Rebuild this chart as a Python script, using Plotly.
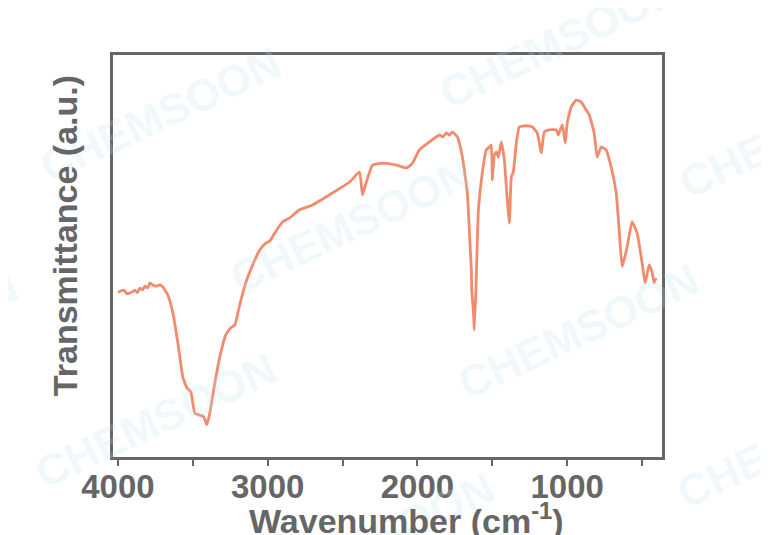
import plotly.graph_objects as go

# Wavenumber (cm-1) and transmittance (a.u.)
wavenumber = [4000, 3960, 3940, 3920, 3900, 3887, 3870, 3853, 3835, 3820, 3800, 3787, 3767, 3747,
              3720, 3700, 3667, 3633, 3600, 3567, 3540, 3513, 3487, 3453, 3427, 3407, 3387,
              3353, 3320, 3280, 3247, 3220, 3187, 3147, 3100, 3053, 3013, 2987, 2953, 2900,
              2853, 2787, 2700, 2567, 2453, 2387, 2367, 2347, 2300, 2233, 2140, 2073, 2033,
              1987, 1920, 1853, 1830, 1807, 1785, 1767, 1733, 1700, 1667, 1647, 1640, 1637, 1627,
              1620, 1607, 1593, 1567, 1540, 1520, 1507, 1500, 1487, 1473, 1460, 1440, 1420,
              1400, 1387, 1373, 1360, 1340, 1320, 1273, 1233, 1200, 1173, 1153, 1120, 1073,
              1060, 1033, 1013, 1000, 973, 940, 907, 873, 853, 820, 800, 773, 740, 707, 673,
              653, 633, 600, 567, 533, 500, 480, 453, 433, 420, 407]
transmittance = [41.0, 41.5, 40.6, 40.8, 41.2, 41.5, 40.9, 42.0, 41.6, 42.5, 42.1, 43.3, 42.8, 42.5,
                 42.8, 42.3, 40.3, 35.8, 28.4, 19.9, 17.2, 16.2, 10.9, 10.4, 10.0, 8.0, 10.9,
                 18.4, 24.9, 30.4, 32.1, 32.8, 37.8, 43.3, 47.8, 51.5, 53.2, 53.7, 55.7, 58.5,
                 59.5, 61.5, 62.7, 65.7, 68.4, 70.9, 65.2, 67.7, 72.6, 73.1, 72.6, 71.9, 73.1,
                 76.4, 78.4, 80.1, 79.6, 80.6, 80.1, 80.9, 79.6, 74.6, 65.7, 51.5, 46.5, 41.0, 36.6,
                 31.6, 44.8, 61.5, 70.7, 76.4, 77.1, 77.6, 68.9, 75.1, 75.9, 74.6, 78.4, 73.9,
                 63.9, 58.2, 69.7, 70.9, 78.1, 82.1, 82.4, 82.1, 80.6, 75.6, 80.9, 81.4, 81.4,
                 80.1, 82.6, 78.1, 83.1, 87.1, 88.8, 88.3, 86.3, 85.1, 80.6, 74.6, 77.1, 76.4,
                 72.2, 65.7, 56.5, 47.3, 52.2, 58.5, 55.7, 48.3, 43.3, 47.8, 46.0, 43.3, 44.5]

x_tick_values = [4000, 3000, 2000, 1000]
x_tick_labels = ["4000", "3000", "2000", "1000"]

x_title = "Wavenumber (cm<sup>-1</sup>)"
y_title = "Transmittance (a.u.)"

watermark_text = "CHEMSOON"
watermark_x = [0.086, 0.814, 0.432, 1.251, 0.077, 0.847, 1.246, -0.392, 0.474]
watermark_y = [0.851, 1.037, 0.577, 0.813, 0.092, 0.311, 0.040, 0.294, -0.204]

axis_color = "#666666"
font_family = "Liberation Sans, Arial, sans-serif"

fig = go.Figure()
fig.add_trace(go.Scatter(
    x=wavenumber, y=transmittance, mode="lines",
    line=dict(color="#F28A6C", width=2.8, shape="spline", smoothing=0.4),
    hoverinfo="skip", showlegend=False,
))

for wx, wy in zip(watermark_x, watermark_y):
    fig.add_annotation(
        x=wx, y=wy, xref="paper", yref="paper", text="<b>" + watermark_text + "</b>",
        showarrow=False, textangle=-25, xanchor="center", yanchor="middle",
        font=dict(family=font_family, size=44, color="rgba(190,225,245,0.22)"),
    )

# axis titles placed as annotations to match the reference offsets
fig.add_annotation(
    x=0.535, y=-0.153, xref="paper", yref="paper", text="<b>" + x_title + "</b>",
    showarrow=False, xanchor="center", yanchor="middle",
    font=dict(family=font_family, size=34, color=axis_color),
)
fig.add_annotation(
    x=-0.087, y=0.55, xref="paper", yref="paper", text="<b>" + y_title + "</b>",
    showarrow=False, textangle=-90, xanchor="center", yanchor="middle",
    font=dict(family=font_family, size=34, color=axis_color),
)

# the page body adds an 8px offset, so the figure is sized to end at the window edge
fig.update_layout(
    width=761, height=527,
    margin=dict(l=105, r=107, t=47, b=78, autoexpand=False),
    paper_bgcolor="white", plot_bgcolor="white",
    font=dict(family=font_family, color=axis_color),
)
fig.update_xaxes(
    range=[4033, 367], automargin=False,
    tickvals=x_tick_values, ticktext=x_tick_labels,
    ticks="outside", ticklen=6, tickwidth=2, tickcolor=axis_color,
    ticklabelstandoff=-8,
    minor=dict(ticks="outside", dtick=500, tick0=0, ticklen=6, tickwidth=2, tickcolor=axis_color),
    tickfont=dict(size=33, weight="bold", color=axis_color, family=font_family),
    showline=True, linewidth=3, linecolor=axis_color, mirror=True,
    showgrid=False, zeroline=False,
)
fig.update_yaxes(
    range=[0, 100], automargin=False,
    showticklabels=False, ticks="",
    showline=True, linewidth=3, linecolor=axis_color, mirror=True,
    showgrid=False, zeroline=False,
)

fig.write_html("out.html")
